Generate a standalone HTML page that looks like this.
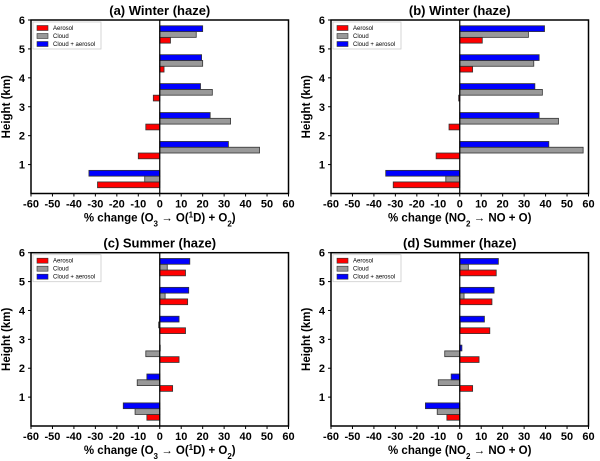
<!DOCTYPE html>
<html><head><meta charset="utf-8"><style>
html,body{margin:0;padding:0;background:#fff;}
svg{display:block;font-family:"Liberation Sans","DejaVu Sans",sans-serif;}
</style></head><body>
<svg id="fig" width="600" height="461" viewBox="0 0 600 461"></svg>
<script>
const heights = [0.5,1.5,2.5,3.5,4.5,5.5];
const xTicks = [-60,-50,-40,-30,-20,-10,0,10,20,30,40,50,60];
const yTicks = [1,2,3,4,5,6];
const seriesNames = ["Aerosol","Cloud","Cloud + aerosol"];
const aAerosol = [-29,-10,-6.5,-3,2,5];
const aCloud = [-7,46.5,33,24.5,20,17];
const aBoth = [-33,32,23.5,19,19.5,20];
const bAerosol = [-31,-11,-5,-0.5,6,10.5];
const bCloud = [-6.5,57.5,46,38.5,34.5,32];
const bBoth = [-34.5,41.5,37,35,37,39.5];
const cAerosol = [-6,6,9,12,13,12];
const cCloud = [-11.5,-10.5,-6.5,-0.5,2.5,3.5];
const cBoth = [-17,-6,0,9,13.5,14];
const dAerosol = [-6,6,9,14,15,17];
const dCloud = [-10.5,-10,-7,0,2,4];
const dBoth = [-16,-4,1,11.5,16,18];

const NS="http://www.w3.org/2000/svg";
const svg=document.getElementById('fig');
function mk(tag,attrs,parent){const e=document.createElementNS(NS,tag);for(const k in attrs)e.setAttribute(k,attrs[k]);(parent||svg).appendChild(e);return e;}
const colors=["#ff0000","#999999","#0000ff"];
const offsets=[-0.2,0,0.2];

function panel(id,x0,x1,yTop,yBot,title,xlabelHTML,series){
  const g=mk('g',{});
  
  
  const xs=v=>x0+(v+60)/120*(x1-x0);
  const ys=v=>yBot-v/6*(yBot-yTop);
  const bh=0.2/6*(yBot-yTop);
  series.forEach((vals,si)=>{
    vals.forEach((v,i)=>{
      const yc=ys(heights[i]+offsets[si]);
      const xa=xs(Math.min(0,v)), xb=xs(Math.max(0,v));
      const r=mk('rect',{x:xa,y:yc-bh/2,width:Math.max(xb-xa,0.5),height:bh,fill:colors[si],stroke:'#333',"stroke-width":0.8},g);
      
      
    });
  });
  mk('line',{x1:xs(0),x2:xs(0),y1:yTop,y2:yBot,stroke:'#000',"stroke-width":1.2},g);
  mk('rect',{x:x0,y:yTop,width:x1-x0,height:yBot-yTop,fill:'none',stroke:'#000',"stroke-width":1.5},g);
  xTicks.forEach(t=>{
    mk('line',{x1:xs(t),x2:xs(t),y1:yBot,y2:yBot+3,stroke:'#000'},g);
    const tx=mk('text',{x:xs(t),y:yBot+14,"text-anchor":"middle","font-size":"11","font-weight":"bold"},g);
    tx.textContent=t;
    
    
  });
  yTicks.forEach(t=>{
    mk('line',{x1:x0-3,x2:x0,y1:ys(t),y2:ys(t),stroke:'#000'},g);
    const tx=mk('text',{x:x0-6,y:ys(t)+4,"text-anchor":"end","font-size":"11","font-weight":"bold"},g);
    tx.textContent=t;
    
    
  });
  const ti=mk('text',{x:(x0+x1)/2,y:yTop-5,"text-anchor":"middle","font-size":"13","font-weight":"bold"},g);
  ti.textContent=title;
  
  
  const yl=mk('text',{transform:`translate(${x0-21},${(yTop+yBot)/2}) rotate(-90)`,"text-anchor":"middle","font-size":"11.5","font-weight":"bold"},g);
  yl.textContent="Height (km)";
  
  
  const xl=mk('text',{x:(x0+x1)/2,y:yBot+28,"text-anchor":"middle","font-size":"11.5","font-weight":"bold"},g);
  xl.innerHTML=xlabelHTML;
  
  
  const lg=mk('g',{},g);
  
  
  mk('rect',{x:x0+2,y:yTop+2,width:68,height:27,fill:'#fff',stroke:'#ccc',"stroke-width":0.8},lg);
  seriesNames.forEach((n,i)=>{
    const yy=yTop+8+i*8;
    mk('rect',{x:x0+6,y:yy-2.5,width:11,height:5,fill:colors[i],stroke:'#333',"stroke-width":0.6},lg);
    const t=mk('text',{x:x0+22,y:yy+2,"font-size":"6"},lg);
    t.textContent=n;
    
    
  });
}
const lblO3='% change  (O<tspan baseline-shift="sub" font-size="8">3</tspan> → O(<tspan baseline-shift="super" font-size="8">1</tspan>D) + O<tspan baseline-shift="sub" font-size="8">2</tspan>)';
const lblNO2='% change (NO<tspan baseline-shift="sub" font-size="8">2</tspan> → NO + O)';
panel('a',31,288.5,20,193.5,'(a)  Winter (haze)',lblO3,[aAerosol,aCloud,aBoth]);
panel('b',331,588.5,20,193.5,'(b) Winter (haze)',lblNO2,[bAerosol,bCloud,bBoth]);
panel('c',31,288.5,252.7,426,'(c)  Summer (haze)',lblO3,[cAerosol,cCloud,cBoth]);
panel('d',331,588.5,252.7,426,'(d) Summer (haze)',lblNO2,[dAerosol,dCloud,dBoth]);
</script>
</body></html>
